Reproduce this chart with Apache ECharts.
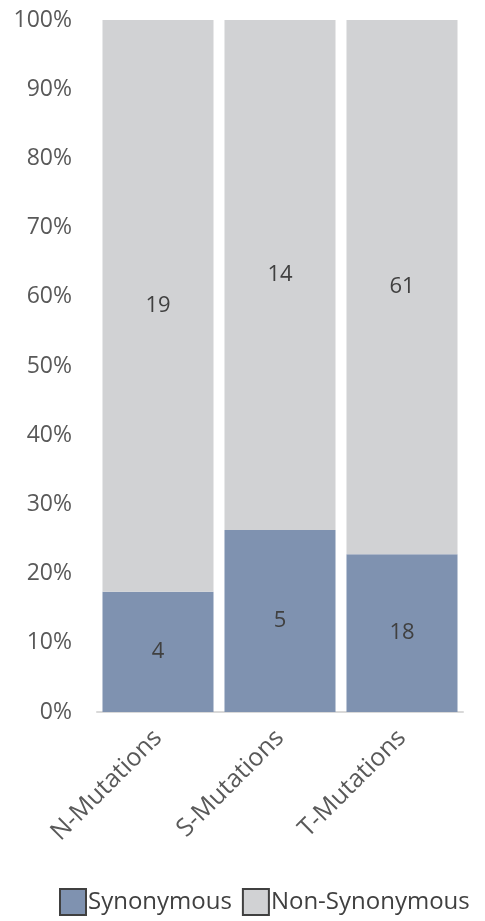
<!DOCTYPE html>
<html>
<head>
<meta charset="utf-8">
<script src="https://cdn.jsdelivr.net/npm/echarts@6/dist/echarts.min.js"></script>
<style>
  html, body { margin: 0; padding: 0; background: #fff; }
  #chart { width: 485px; height: 921px; }
</style>
</head>
<body>
<div id="chart"></div>
<script>
// Mutation counts per gene group
const categories = ['N-Mutations', 'S-Mutations', 'T-Mutations'];
const synonymous = [4, 5, 18];
const nonSynonymous = [19, 14, 61];
const yTicks = [0, 10, 20, 30, 40, 50, 60, 70, 80, 90, 100];

// Share of each group as percent of the group total
const totals = categories.map((_, i) => synonymous[i] + nonSynonymous[i]);
const synPct = synonymous.map((v, i) => v / totals[i] * 100);
const nonPct = nonSynonymous.map((v, i) => v / totals[i] * 100);

const FONT = '"Open Sans", "Noto Sans", sans-serif';

const chart = echarts.init(document.getElementById('chart'));
chart.setOption({
  animation: false,
  textStyle: { fontFamily: FONT },
  grid: { left: 97, right: 22, top: 20, bottom: 209, containLabel: false },
  xAxis: {
    type: 'category',
    data: categories,
    axisLine: { lineStyle: { color: '#D9D9D9', width: 2 } },
    axisTick: { show: false },
    axisLabel: {
      rotate: 45,
      color: '#595959',
      fontSize: 25,
      fontFamily: FONT,
      margin: 22
    }
  },
  yAxis: {
    type: 'value',
    min: yTicks[0],
    max: yTicks[yTicks.length - 1],
    interval: 10,
    axisLine: { show: false },
    axisTick: { show: false },
    splitLine: { show: false },
    axisLabel: {
      color: '#595959',
      fontSize: 23,
      fontFamily: FONT,
      margin: 25,
      formatter: v => v + '%'
    }
  },
  legend: {
    bottom: 0,
    left: 54,
    itemWidth: 26,
    itemHeight: 26,
    itemGap: 10,
    icon: 'rect',
    textStyle: { color: '#404040', fontSize: 24, fontFamily: FONT, padding: [0, 0, 0, -3] },
    data: [
      { name: 'Synonymous', itemStyle: { borderColor: '#404040', borderWidth: 2 } },
      { name: 'Non-Synonymous', itemStyle: { borderColor: '#404040', borderWidth: 2 } }
    ]
  },
  series: [
    {
      name: 'Synonymous',
      type: 'bar',
      stack: 'total',
      barCategoryGap: '9%',
      data: synPct,
      itemStyle: { color: '#7F92B0' },
      label: {
        show: true,
        position: 'inside',
        color: '#404040',
        fontSize: 22,
        fontFamily: FONT,
        formatter: p => synonymous[p.dataIndex]
      }
    },
    {
      name: 'Non-Synonymous',
      type: 'bar',
      stack: 'total',
      barCategoryGap: '9%',
      data: nonPct,
      itemStyle: { color: '#D1D2D4' },
      label: {
        show: true,
        position: 'inside',
        color: '#404040',
        fontSize: 22,
        fontFamily: FONT,
        formatter: p => nonSynonymous[p.dataIndex]
      }
    }
  ]
});
</script>
</body>
</html>
